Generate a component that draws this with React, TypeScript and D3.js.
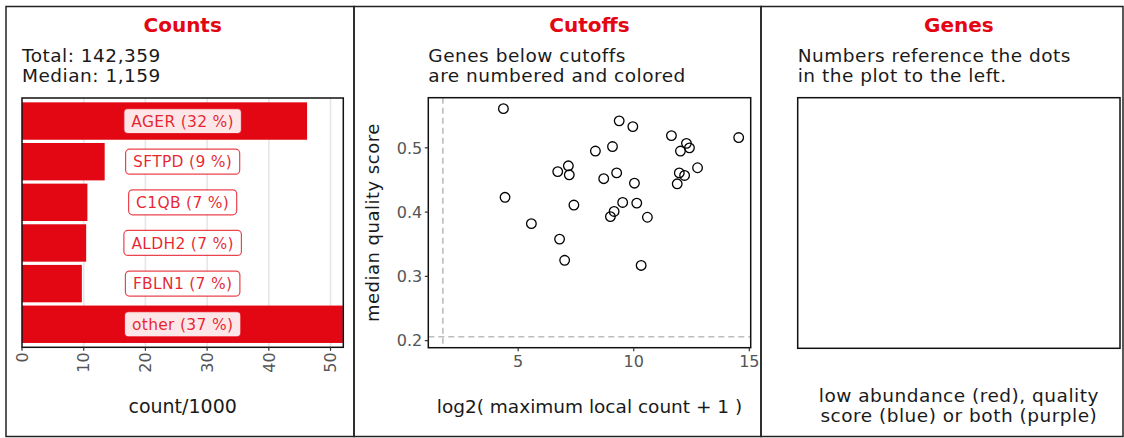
import { useEffect, useRef } from 'react';
import * as d3 from 'd3';

// bar panel: counts per gene, in thousands
const genes = ['AGER', 'SFTPD', 'C1QB', 'ALDH2', 'FBLN1', 'other'];
const countK = [46.2, 13.4, 10.6, 10.4, 9.7, 52.0];
const percentLabels = ['32 %', '9 %', '7 %', '7 %', '7 %', '37 %'];
const countTicks = [0, 10, 20, 30, 40, 50];

// scatter panel: one point per gene
const logCount = [
  4.36, 9.37, 9.96, 11.63, 14.54, 12.28, 12.41, 12.02, 9.08, 8.34,
  7.17, 6.71, 7.21, 9.26, 8.70, 10.03, 12.76, 11.97, 12.20, 11.88,
  4.43, 7.41, 9.52, 10.13, 9.15, 8.99, 10.59, 5.57, 6.79, 7.01, 10.32,
];
const qualityScore = [
  0.561, 0.542, 0.533, 0.519, 0.516, 0.507, 0.500, 0.495, 0.502, 0.495,
  0.472, 0.463, 0.458, 0.461, 0.452, 0.445, 0.469, 0.461, 0.457, 0.444,
  0.423, 0.411, 0.415, 0.414, 0.401, 0.393, 0.392, 0.382, 0.358, 0.325, 0.317,
];
const xTicks = [5, 10, 15];
const yTicks = [0.2, 0.3, 0.4, 0.5];
const countCutoff = 1.74;
const qualityCutoff = 0.206;

const RED = '#e30613';
const FONT = '"DejaVu Sans", sans-serif';

export default function App() {
  const svgRef = useRef<SVGSVGElement>(null);

  useEffect(() => {
    if (!svgRef.current) return;
    const svg = d3.select(svgRef.current);
    svg.selectAll('*').remove();
    svg.style('font-family', FONT);

    const panels = [
      { x0: 6, x1: 354, title: 'Counts', sub: ['Total: 142,359', 'Median: 1,159'], plot: { l: 22, t: 98, r: 343.3, b: 347.3 } },
      { x0: 354, x1: 761, title: 'Cutoffs', sub: ['Genes below cutoffs', 'are numbered and colored'], plot: { l: 428.3, t: 97.7, r: 750.7, b: 347.7 } },
      { x0: 761, x1: 1123, title: 'Genes', sub: ['Numbers reference the dots', 'in the plot to the left.'], plot: { l: 797.7, t: 97.7, r: 1120, b: 348.3 } },
    ];

    // panel frames, titles, subtitles
    panels.forEach(p => {
      svg.append('rect')
        .attr('x', p.x0).attr('y', 6.5)
        .attr('width', p.x1 - p.x0).attr('height', 430)
        .attr('fill', 'none').attr('stroke', '#222').attr('stroke-width', 1.5);
      svg.append('text')
        .attr('x', (p.plot.l + p.plot.r) / 2).attr('y', 32)
        .attr('text-anchor', 'middle')
        .attr('font-size', 20).attr('font-weight', 700)
        .attr('fill', RED).text(p.title);
      p.sub.forEach((s, i) => {
        svg.append('text')
          .attr('x', p.plot.l).attr('y', 61.5 + i * 20)
          .attr('font-size', 18.5).attr('letter-spacing', 0.5).attr('fill', '#1a1a1a')
          .text(s);
      });
    });

    // ---- Counts bar chart
    const p1 = panels[0].plot;
    const xBar = d3.scaleLinear().domain([0, 52.07]).range([p1.l, p1.r]);
    const yBar = d3.scaleBand<string>().domain(genes).range([p1.t, p1.b])
      .paddingInner(0.08).paddingOuter(0.107);

    const clipId = 'bar-clip';
    svg.append('defs').append('clipPath').attr('id', clipId)
      .append('rect').attr('x', p1.l).attr('y', p1.t)
      .attr('width', p1.r - p1.l).attr('height', p1.b - p1.t);

    const g1 = svg.append('g');
    g1.selectAll('line.grid').data(countTicks.slice(1)).join('line')
      .attr('x1', d => xBar(d)).attr('x2', d => xBar(d))
      .attr('y1', p1.t).attr('y2', p1.b)
      .attr('stroke', '#e6e6e6').attr('stroke-width', 1.6);

    g1.append('g').attr('clip-path', `url(#${clipId})`)
      .selectAll('rect').data(genes).join('rect')
      .attr('x', xBar(0)).attr('y', d => yBar(d)!)
      .attr('width', (_, i) => xBar(countK[i]) - xBar(0))
      .attr('height', yBar.bandwidth())
      .attr('fill', RED);

    const cx = (p1.l + p1.r) / 2;
    genes.forEach((gname, i) => {
      const cy = yBar(gname)! + yBar.bandwidth() / 2;
      const lg = g1.append('g');
      const box = lg.append('rect');
      const t = lg.append('text')
        .attr('x', cx).attr('y', cy).attr('dy', '0.36em')
        .attr('text-anchor', 'middle').attr('font-size', 15.5)
        .attr('letter-spacing', 0.3)
        .attr('fill', RED).attr('fill-opacity', 0.88)
        .text(`${gname} (${percentLabels[i]})`);
      const w = (t.node() as SVGTextElement).getComputedTextLength() + 15;
      box.attr('x', cx - w / 2).attr('y', cy - 12.5)
        .attr('width', w).attr('height', 25).attr('rx', 4)
        .attr('fill', 'white').attr('fill-opacity', 0.9)
        .attr('stroke', RED).attr('stroke-opacity', 0.75).attr('stroke-width', 1.2);
    });

    g1.append('rect')
      .attr('x', p1.l).attr('y', p1.t)
      .attr('width', p1.r - p1.l).attr('height', p1.b - p1.t)
      .attr('fill', 'none').attr('stroke', '#111').attr('stroke-width', 1.5);

    countTicks.forEach(d => {
      g1.append('line')
        .attr('x1', xBar(d)).attr('x2', xBar(d))
        .attr('y1', p1.b).attr('y2', p1.b + 3.5)
        .attr('stroke', '#333').attr('stroke-width', 1.2);
      g1.append('text')
        .attr('transform', `translate(${xBar(d)},${p1.b + 5}) rotate(-90)`)
        .attr('dy', '0.36em').attr('text-anchor', 'end')
        .attr('font-size', 16).attr('fill', '#555')
        .text(d);
    });
    g1.append('text')
      .attr('x', cx).attr('y', 412.5).attr('text-anchor', 'middle')
      .attr('font-size', 19).attr('fill', '#1a1a1a').text('count/1000');

    // ---- Cutoffs scatter
    const p2 = panels[1].plot;
    const xSc = d3.scaleLinear().domain([1.11, 15.06]).range([p2.l, p2.r]);
    const ySc = d3.scaleLinear().domain([0.189, 0.578]).range([p2.b, p2.t]);
    const g2 = svg.append('g');

    g2.append('line')
      .attr('x1', xSc(countCutoff)).attr('x2', xSc(countCutoff))
      .attr('y1', p2.t).attr('y2', p2.b)
      .attr('stroke', '#bdbdbd').attr('stroke-width', 1.6).attr('stroke-dasharray', '6,4');
    g2.append('line')
      .attr('x1', p2.l).attr('x2', p2.r)
      .attr('y1', ySc(qualityCutoff)).attr('y2', ySc(qualityCutoff))
      .attr('stroke', '#bdbdbd').attr('stroke-width', 1.6).attr('stroke-dasharray', '6,4');

    g2.selectAll('circle').data(logCount).join('circle')
      .attr('cx', d => xSc(d))
      .attr('cy', (_, i) => ySc(qualityScore[i]))
      .attr('r', 4.8)
      .attr('fill', 'none').attr('stroke', '#000').attr('stroke-width', 1.3);

    g2.append('rect')
      .attr('x', p2.l).attr('y', p2.t)
      .attr('width', p2.r - p2.l).attr('height', p2.b - p2.t)
      .attr('fill', 'none').attr('stroke', '#111').attr('stroke-width', 1.5);

    xTicks.forEach(d => {
      g2.append('line')
        .attr('x1', xSc(d)).attr('x2', xSc(d))
        .attr('y1', p2.b).attr('y2', p2.b + 3.5)
        .attr('stroke', '#333').attr('stroke-width', 1.2);
      g2.append('text')
        .attr('x', xSc(d)).attr('y', p2.b + 5).attr('dy', '0.9em')
        .attr('text-anchor', 'middle').attr('font-size', 16).attr('fill', '#555')
        .text(d);
    });
    yTicks.forEach(d => {
      g2.append('line')
        .attr('x1', p2.l - 3.5).attr('x2', p2.l)
        .attr('y1', ySc(d)).attr('y2', ySc(d))
        .attr('stroke', '#333').attr('stroke-width', 1.2);
      g2.append('text')
        .attr('x', p2.l - 6).attr('y', ySc(d)).attr('dy', '0.36em')
        .attr('text-anchor', 'end').attr('font-size', 16).attr('fill', '#555')
        .text(d3.format('.1f')(d));
    });
    g2.append('text')
      .attr('x', (p2.l + p2.r) / 2).attr('y', 412.5).attr('text-anchor', 'middle')
      .attr('font-size', 18.5).attr('fill', '#1a1a1a')
      .text('log2( maximum local count + 1 )');
    g2.append('text')
      .attr('transform', `translate(379,${(p2.t + p2.b) / 2}) rotate(-90)`)
      .attr('text-anchor', 'middle').attr('font-size', 18).attr('letter-spacing', 0.5)
      .attr('fill', '#1a1a1a')
      .text('median quality score');

    // ---- Genes panel (empty box + caption)
    const p3 = panels[2].plot;
    svg.append('rect')
      .attr('x', p3.l).attr('y', p3.t)
      .attr('width', p3.r - p3.l).attr('height', p3.b - p3.t)
      .attr('fill', 'none').attr('stroke', '#111').attr('stroke-width', 1.5);
    ['low abundance (red), quality', 'score (blue) or both (purple)'].forEach((s, i) => {
      svg.append('text')
        .attr('x', (p3.l + p3.r) / 2).attr('y', 401.5 + i * 20.5)
        .attr('text-anchor', 'middle').attr('font-size', 18.5).attr('letter-spacing', 0.5)
        .attr('fill', '#1a1a1a')
        .text(s);
    });
  }, []);

  return (
    <svg
      ref={svgRef}
      width={1124}
      height={438}
      style={{ position: 'absolute', left: 0, top: 0, background: '#fff', display: 'block' }}
    />
  );
}
